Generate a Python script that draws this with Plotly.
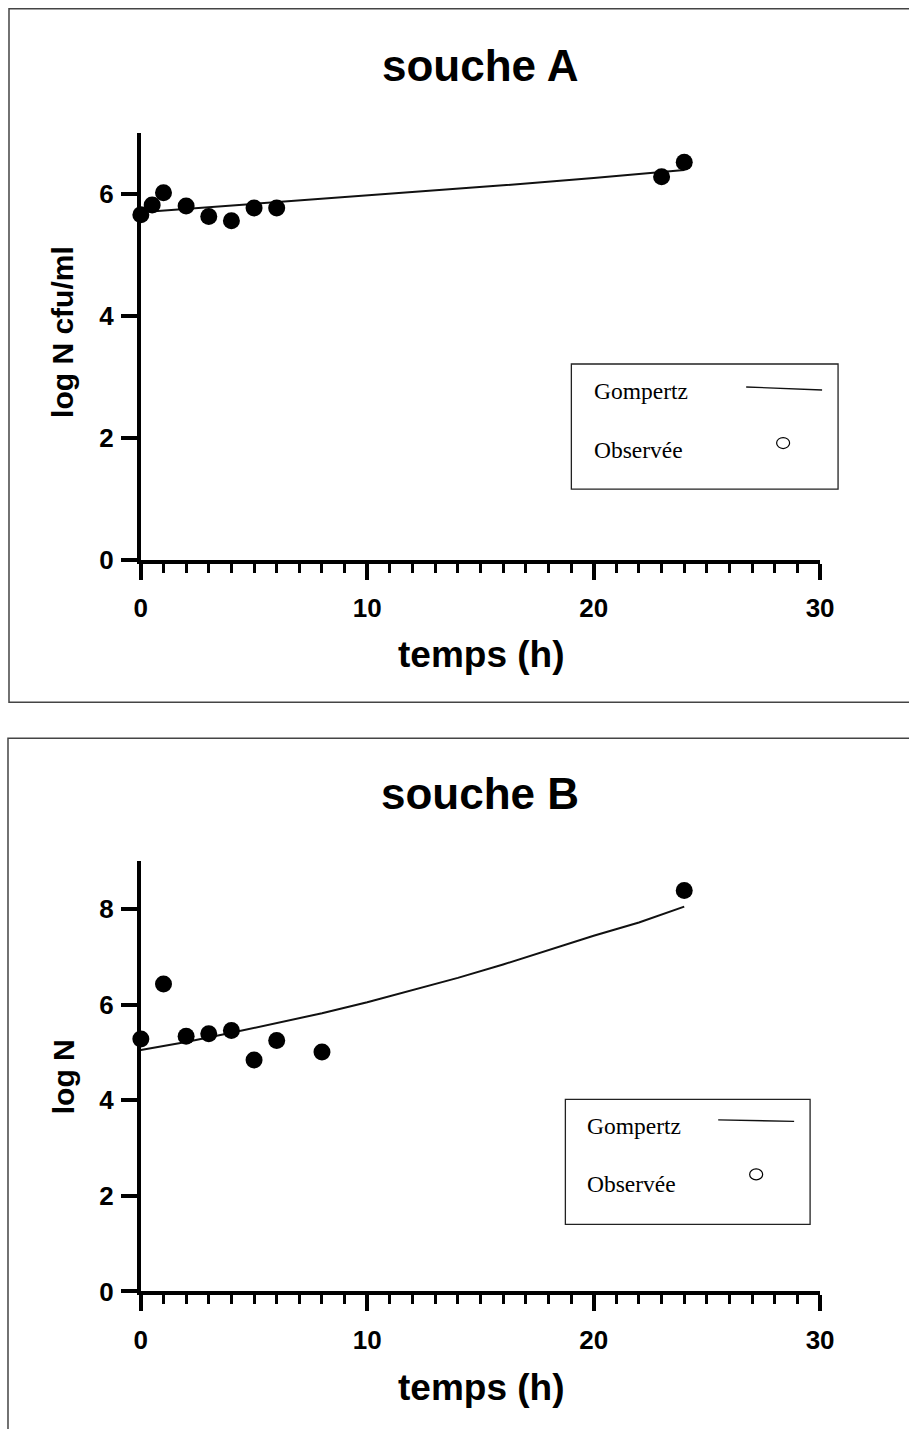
import plotly.graph_objects as go

W, H = 909, 1429

# ---------------- data ----------------
# souche A
tA_obs = [0, 0.5, 1, 2, 3, 4, 5, 6, 23, 24]
yA_obs = [5.66, 5.82, 6.02, 5.80, 5.63, 5.56, 5.77, 5.77, 6.28, 6.52]
tA_fit = [0, 4, 8, 12, 16, 20, 24]
yA_fit = [5.70, 5.81, 5.91, 6.03, 6.14, 6.26, 6.39]

# souche B
tB_obs = [0, 1, 2, 3, 4, 5, 6, 8, 24]
yB_obs = [5.28, 6.43, 5.34, 5.39, 5.46, 4.84, 5.25, 5.01, 8.39]
tB_fit = [0, 2, 4, 6, 8, 10, 12, 14, 16, 18, 20, 22, 24]
yB_fit = [5.05, 5.22, 5.41, 5.61, 5.82, 6.05, 6.30, 6.56, 6.84, 7.14, 7.44, 7.72, 8.05]

titles = ["souche A", "souche B"]
x_title = "temps (h)"
y_titles = ["log N cfu/ml", "log N"]
legend_labels = ["Gompertz", "Observée"]
x_ticks = [0, 10, 20, 30]
yA_ticks = [0, 2, 4, 6]
yB_ticks = [0, 2, 4, 6, 8]


# layout helpers: target pixel position -> paper fraction
def px(x):
    return ((x - 6) / 0.978) / W


def py(y):
    return 1 - ((y - 1.2) / 0.989) / H


BOLD = dict(family="Liberation Sans, Arial, sans-serif", color="black", weight="bold")

fig = go.Figure()

fig.add_trace(go.Scatter(x=tA_fit, y=yA_fit, mode="lines", line=dict(color="#111", width=2),
                         xaxis="x", yaxis="y", showlegend=False, cliponaxis=False))
fig.add_trace(go.Scatter(x=tA_obs, y=yA_obs, mode="markers", marker=dict(color="black", size=17),
                         xaxis="x", yaxis="y", showlegend=False, cliponaxis=False))
fig.add_trace(go.Scatter(x=tB_fit, y=yB_fit, mode="lines", line=dict(color="#111", width=2),
                         xaxis="x2", yaxis="y2", showlegend=False, cliponaxis=False))
fig.add_trace(go.Scatter(x=tB_obs, y=yB_obs, mode="markers", marker=dict(color="black", size=17),
                         xaxis="x2", yaxis="y2", showlegend=False, cliponaxis=False))

xdom = [px(140), px(820)]


def xaxis_def(anchor):
    return dict(domain=xdom, range=[0, 30], anchor=anchor, tickvals=x_ticks,
                showline=True, linewidth=4, linecolor="black",
                ticks="outside", ticklen=16, tickwidth=4, tickcolor="black",
                minor=dict(dtick=1, ticks="outside", ticklen=9, tickwidth=3, tickcolor="black"),
                showgrid=False, zeroline=False, tickfont=dict(size=26, **BOLD),
                ticklabelstandoff=6, fixedrange=True)


def yaxis_def(anchor, dom, rng, vals):
    return dict(domain=dom, range=rng, anchor=anchor, tickvals=vals,
                showline=True, linewidth=4, linecolor="black",
                ticks="outside", ticklen=16, tickwidth=4, tickcolor="black",
                showgrid=False, zeroline=False, tickfont=dict(size=26, **BOLD),
                ticklabelstandoff=2, fixedrange=True)


fig.update_layout(
    width=W, height=H, margin=dict(l=0, r=0, t=0, b=0),
    paper_bgcolor="white", plot_bgcolor="white", showlegend=False,
    xaxis=xaxis_def("y"),
    yaxis=yaxis_def("x", [py(561), py(134)], [0, 7], yA_ticks),
    xaxis2=xaxis_def("y2"),
    yaxis2=yaxis_def("x2", [py(1292), py(862)], [0, 9], yB_ticks),
)

shapes = []
ann = []

# panel frames (right / bottom edges run off the page)
for top, bot, left in [(10, 703, 8), (739, 1520, 7)]:
    shapes.append(dict(type="rect", xref="paper", yref="paper", x0=px(left), x1=px(1000),
                       y0=py(bot), y1=py(top), line=dict(color="#444", width=1.5)))

for title, ytitle, ty, xty, yty in [(titles[0], y_titles[0], 67, 655, 333),
                                    (titles[1], y_titles[1], 794, 1388, 1077)]:
    ann.append(dict(text=title, x=px(480), y=py(ty), xref="paper", yref="paper",
                    showarrow=False, font=dict(size=44, **BOLD), xanchor="center", yanchor="middle"))
    ann.append(dict(text=x_title, x=px(481), y=py(xty), xref="paper", yref="paper",
                    showarrow=False, font=dict(size=37, **BOLD), xanchor="center", yanchor="middle"))
    ann.append(dict(text=ytitle, x=px(62), y=py(yty), xref="paper", yref="paper", textangle=-90,
                    showarrow=False, font=dict(size=30, **BOLD), xanchor="center", yanchor="middle"))

SERIF = dict(family="Liberation Serif, Times New Roman, serif", color="black", size=23.5)
for (bx0, by0, bx1, by1, tx, gy, oy, lx0, ly0, lx1, ly1, cx, cy) in [
        (571, 365, 838, 490, 592, 392, 451, 746, 388, 822, 391, 783, 444),
        (565, 1100, 810, 1225, 585, 1127, 1185, 718, 1120.5, 794, 1122, 756, 1175)]:
    shapes.append(dict(type="rect", xref="paper", yref="paper", x0=px(bx0), x1=px(bx1),
                       y0=py(by1), y1=py(by0), line=dict(color="#222", width=1.3),
                       fillcolor="white", layer="above"))
    shapes.append(dict(type="line", xref="paper", yref="paper", x0=px(lx0), y0=py(ly0),
                       x1=px(lx1), y1=py(ly1), line=dict(color="#111", width=1.3)))
    shapes.append(dict(type="circle", xref="paper", yref="paper", xsizemode="pixel", ysizemode="pixel",
                       xanchor=px(cx), yanchor=py(cy), x0=-6.5, x1=6.5, y0=-5.5, y1=5.5,
                       line=dict(color="black", width=1.2)))
    ann.append(dict(text=legend_labels[0], x=px(tx), y=py(gy), xref="paper", yref="paper",
                    showarrow=False, font=SERIF, xanchor="left", yanchor="middle"))
    ann.append(dict(text=legend_labels[1], x=px(tx), y=py(oy), xref="paper", yref="paper",
                    showarrow=False, font=SERIF, xanchor="left", yanchor="middle"))

fig.update_layout(shapes=shapes, annotations=ann)
fig.write_html("out.html")
